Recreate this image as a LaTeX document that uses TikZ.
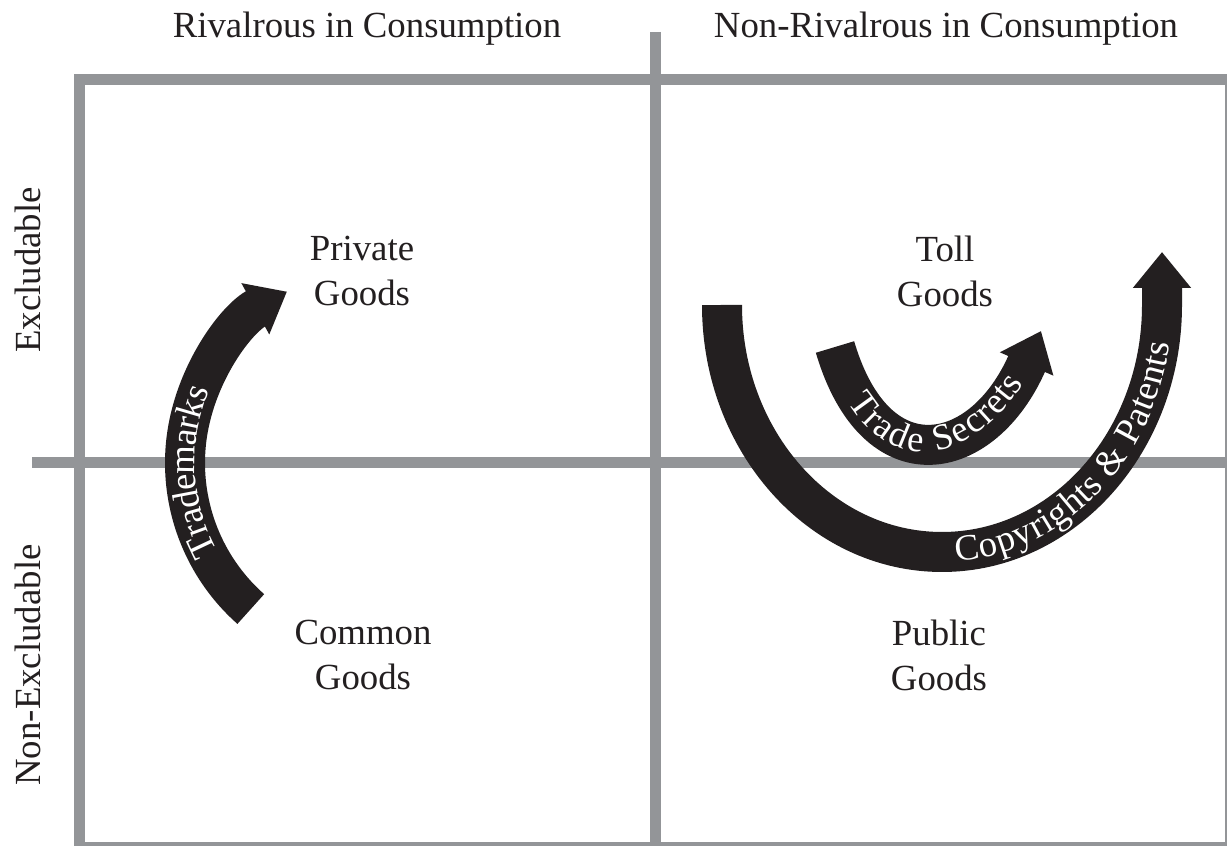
\documentclass[tikz,border=0pt]{standalone}
\usepackage{fontspec}
\setmainfont{Liberation Serif}
\usetikzlibrary{arrows.meta,decorations.text,calc}
\definecolor{rule}{HTML}{939598}
\definecolor{ink}{HTML}{231F20}
{\catcode`\&=12 \gdef\cptext{Copyrights & Patents}}
\tikzset{
  grid line/.style={draw=rule, line width=5.5pt},
  band/.style={draw=ink, line width=20pt, -{Triangle[width=28pt,length=18pt]}},
  band text/.style={decorate, decoration={text along path, text color=white, raise=-5pt, text/.expand once=#1}},
  cell/.style={align=center, text=ink}
}
\begin{document}
\fontsize{18.4}{22.5}\selectfont
\begin{tikzpicture}[x=0.5pt, y=0.5pt]
  \useasboundingbox (0,0) rectangle (1227,846);
  \clip (0,0) rectangle (1227,846);

  % quadrant grid
  \draw[grid line] (79.5,-1.5) rectangle (1230.5,766.5);
  \draw[grid line] (655.5,814) -- (655.5,-1.5);
  \draw[grid line] (32,383) -- (1230.5,383);

  % headings
  \node[text=ink, anchor=base] (rival) at (367,808) {Rivalrous in Consumption};
  \node[text=ink, anchor=base] (nonrival) at (946,808) {Non-Rivalrous in Consumption};
  \node[text=ink, rotate=90] (excl) at (28,576) {Excludable};
  \node[text=ink, rotate=90] (nonexcl) at (28,181) {Non-Excludable};

  % the four kinds of goods
  \node[cell] (private) at (362,574.5) {Private\\Goods};
  \node[cell] (toll) at (945,574.5) {Toll\\Goods};
  \node[cell] (common) at (363,191) {Common\\Goods};
  \node[cell] (public) at (939,191) {Public\\Goods};

  % trademarks
  \coordinate (tm-c) at (380,383);
  \draw[band] ($(tm-c)+(228.5:195)$) arc[start angle=228.5, end angle=118.5, radius=195];
  \path[band text={Trademarks}, decoration={text align={left indent=34pt}}]
    ($(tm-c)+(228.5:195)$) arc[start angle=228.5, end angle=118.5, radius=195];

  % copyrights and patents
  \coordinate (cp-tail) at (722,541);
  \coordinate (cp-head) at (1162,594);
  \draw[band] (cp-tail) arc[start angle=180, end angle=360, x radius=220, y radius=247] -- (cp-head);
  \path[band text=\cptext, decoration={text align={left indent=190pt}}]
    (cp-tail) arc[start angle=180, end angle=360, x radius=220, y radius=247] -- (cp-head);

  % trade secrets
  \coordinate (ts-tail) at (835,499);
  \coordinate (ts-head) at (1041,515);
  \draw[band] (ts-tail) .. controls (876,360) and (983,382) .. (ts-head);
  \path[band text={Trade Secrets}, decoration={text align=center}]
    (ts-tail) .. controls (876,360) and (983,382) .. (ts-head);
\end{tikzpicture}
\end{document}
